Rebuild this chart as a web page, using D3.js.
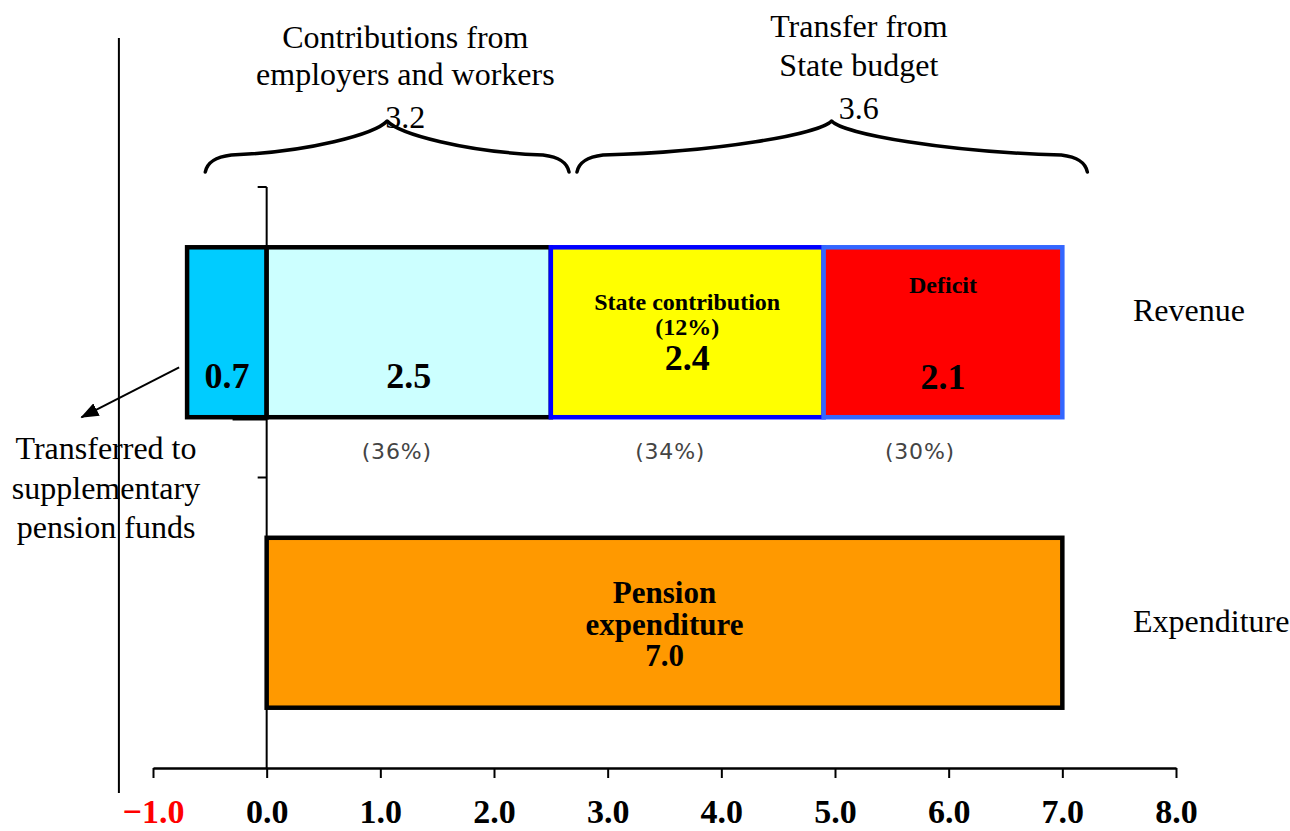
<!DOCTYPE html>
<html>
<head>
<meta charset="utf-8">
<script src="https://cdn.jsdelivr.net/npm/d3@7"></script>
<style>
  html, body { margin: 0; padding: 0; background: #fff; }
  svg { display: block; }
</style>
</head>
<body>
<svg id="chart" width="1290" height="831"></svg>
<script>
// Pension system balance (billions): revenue sources vs. pension expenditure
const categories = ['Revenue', 'Expenditure'];
const revenueParts = ['transferred', 'contributions', 'state', 'deficit'];
const revenueValues = [-0.7, 2.5, 2.4, 2.1];
const expenditureValues = [7.0];
const shareLabels = ['(36%)', '(34%)', '(30%)'];
const groupTitles = [['Contributions from', 'employers and workers'], ['Transfer from', 'State budget']];
const groupTotals = [3.2, 3.6];
const stateRateLabel = '(12%)';
const xTicks = [-1, 0, 1, 2, 3, 4, 5, 6, 7, 8];

const svg = d3.select('#chart');
const serif = '"Liberation Serif", "Times New Roman", Times, serif';
const fmt = d3.format('.1f');

const x = d3.scaleLinear().domain([-1, 8]).range([153, 1176]);
const y = d3.scaleBand().domain(categories).range([187, 768])
  .paddingInner(0.415).paddingOuter(0.2075);
const bw = y.bandwidth();

// stack the revenue parts: negative part sits left of zero, the rest accumulate from zero
let run = 0;
const revenue = revenueValues.map((v, i) => {
  let x0, x1;
  if (v < 0) { x0 = v; x1 = 0; } else { x0 = run; x1 = run + v; run = x1; }
  return { cat: 'Revenue', part: revenueParts[i], value: v, x0, x1 };
});
const expenditure = expenditureValues.map(v => ({ cat: 'Expenditure', part: 'expenditure', value: v, x0: 0, x1: v }));

const style = {
  transferred:   { fill: '#00CCFF', stroke: '#000000' },
  contributions: { fill: '#CCFFFF', stroke: '#000000' },
  state:         { fill: '#FFFF00', stroke: '#0000FF' },
  deficit:       { fill: '#FF0000', stroke: '#3366FF' },
  expenditure:   { fill: '#FF9900', stroke: '#000000' }
};

// text lines inside each bar: [text, font size, baseline offset from bar top]
const inner = {
  transferred:   d => [[fmt(Math.abs(d.value)), 36, 141]],
  contributions: d => [[fmt(d.value), 36, 141]],
  state:         d => [['State contribution', 24, 63], [stateRateLabel, 24, 88], [fmt(d.value), 36, 123]],
  deficit:       d => [['Deficit', 24, 46], [fmt(d.value), 36, 142]],
  expenditure:   d => [['Pension', 31, 65], ['expenditure', 31, 97], [fmt(d.value), 31, 128]]
};

// outer frame line on the far left
svg.append('line')
  .attr('x1', x(-1.3)).attr('x2', x(-1.3))
  .attr('y1', 38).attr('y2', 793)
  .attr('stroke', '#000').attr('stroke-width', 2);

// category axis at zero with ticks between categories
const yAxisG = svg.append('g');
yAxisG.append('line')
  .attr('x1', x(0)).attr('x2', x(0))
  .attr('y1', y.range()[0]).attr('y2', y.range()[1])
  .attr('stroke', '#000').attr('stroke-width', 2);
const boundaries = [y.range()[0], y.range()[0] + y.step()];
yAxisG.selectAll('line.tick').data(boundaries).join('line')
  .attr('class', 'tick')
  .attr('x1', x(0) - 9).attr('x2', x(0))
  .attr('y1', d => d).attr('y2', d => d)
  .attr('stroke', '#000').attr('stroke-width', 2);

// bars
const all = revenue.concat(expenditure);
svg.selectAll('rect.seg').data(all).join('rect')
  .attr('class', 'seg')
  .attr('x', d => x(d.x0))
  .attr('y', d => y(d.cat))
  .attr('width', d => x(d.x1) - x(d.x0))
  .attr('height', bw)
  .attr('fill', d => style[d.part].fill)
  .attr('stroke', d => style[d.part].stroke)
  .attr('stroke-width', 4.5);

// short base line under the left part of the revenue bar
svg.append('line')
  .attr('x1', x(-0.3)).attr('x2', x(0))
  .attr('y1', y('Revenue') + bw + 1).attr('y2', y('Revenue') + bw + 1)
  .attr('stroke', '#000').attr('stroke-width', 4.5);

// labels inside bars
all.forEach(d => {
  const cx = (x(d.x0) + x(d.x1)) / 2;
  inner[d.part](d).forEach(([t, size, off]) => {
    svg.append('text')
      .attr('x', cx).attr('y', y(d.cat) + off)
      .attr('text-anchor', 'middle')
      .attr('font-family', serif).attr('font-weight', 'bold')
      .attr('font-size', size).attr('fill', '#000')
      .text(t);
  });
});

// share labels under the revenue bar
const shareDx = [-12, -17, -23];
revenue.slice(1).forEach((d, i) => {
  svg.append('text')
    .attr('x', (x(d.x0) + x(d.x1)) / 2 + shareDx[i])
    .attr('y', y('Revenue') + bw + 42)
    .attr('text-anchor', 'middle')
    .attr('font-family', '"DejaVu Sans", Verdana, sans-serif')
    .attr('font-size', 22).attr('letter-spacing', 0.8)
    .attr('fill', '#444')
    .text(shareLabels[i]);
});

// category labels on the right
const catDy = { Revenue: -11, Expenditure: 9 };
categories.forEach(c => {
  svg.append('text')
    .attr('x', 1133).attr('y', y(c) + bw / 2 + catDy[c])
    .attr('font-family', serif).attr('font-size', 32).attr('fill', '#000')
    .text(c);
});

// braces grouping the revenue sources
const braces = [
  { x0: -0.54, xm: 1.06, x1: 2.66, tx: 1.22, base: [48, 85, 128] },
  { x0: 2.73, xm: 4.97, x1: 7.22, tx: 5.21, base: [37, 76, 119] }
];
function bracePath(a, m, b, yb, yt) {
  const p = d3.path();
  const ax = a + 26, bx = b - 26, hy = yb - 17;
  p.moveTo(a, yb);
  p.bezierCurveTo(a + 2, yb - 10, a + 10, yb - 15, ax, hy);
  p.bezierCurveTo(ax + (m - ax) * 0.5, yb - 20, m - 12, yt + 13, m, yt);
  p.bezierCurveTo(m + 12, yt + 13, bx - (bx - m) * 0.5, yb - 20, bx, hy);
  p.bezierCurveTo(b - 10, yb - 15, b - 2, yb - 10, b, yb);
  return p.toString();
}
braces.forEach((br, i) => {
  svg.append('path')
    .attr('d', bracePath(x(br.x0), x(br.xm), x(br.x1), 172, 121))
    .attr('fill', 'none').attr('stroke', '#000').attr('stroke-width', 3.5)
    .attr('stroke-linecap', 'round').attr('stroke-linejoin', 'round');
  const lines = groupTitles[i].concat([fmt(groupTotals[i])]);
  lines.forEach((t, k) => {
    svg.append('text')
      .attr('x', x(br.tx)).attr('y', br.base[k])
      .attr('text-anchor', 'middle')
      .attr('font-family', serif).attr('font-size', 32).attr('fill', '#000')
      .text(t);
  });
});

// arrow pointing from the transferred part to its note
svg.append('defs').append('marker')
  .attr('id', 'head').attr('markerUnits', 'userSpaceOnUse')
  .attr('viewBox', '0 0 18 14').attr('refX', 17).attr('refY', 7)
  .attr('markerWidth', 18).attr('markerHeight', 14).attr('orient', 'auto')
  .append('path').attr('d', 'M0,0 L18,7 L0,14 Z').attr('fill', '#000');
svg.append('line')
  .attr('x1', x(-0.77)).attr('y1', y('Revenue') + 120)
  .attr('x2', x(-1.63)).attr('y2', y('Revenue') + 170)
  .attr('stroke', '#000').attr('stroke-width', 2)
  .attr('marker-end', 'url(#head)');
['Transferred to', 'supplementary', 'pension funds'].forEach((t, k) => {
  svg.append('text')
    .attr('x', 106).attr('y', 459 + k * 39.5)
    .attr('text-anchor', 'middle')
    .attr('font-family', serif).attr('font-size', 32).attr('fill', '#000')
    .text(t);
});

// value axis
const xAxis = d3.axisBottom(x).tickValues(xTicks).tickSize(10).tickSizeOuter(0).tickFormat(fmt);
const gx = svg.append('g').attr('transform', 'translate(0,768)').call(xAxis);
gx.attr('font-family', serif).attr('font-size', 34);
gx.select('.domain').attr('stroke', '#000').attr('stroke-width', 2.5);
gx.selectAll('.tick line').attr('stroke', '#000').attr('stroke-width', 2);
gx.selectAll('.tick text')
  .attr('y', 31).attr('dy', '0.71em')
  .attr('font-weight', 'bold')
  .attr('fill', d => d < 0 ? '#FF0000' : '#000');
</script>
</body>
</html>
